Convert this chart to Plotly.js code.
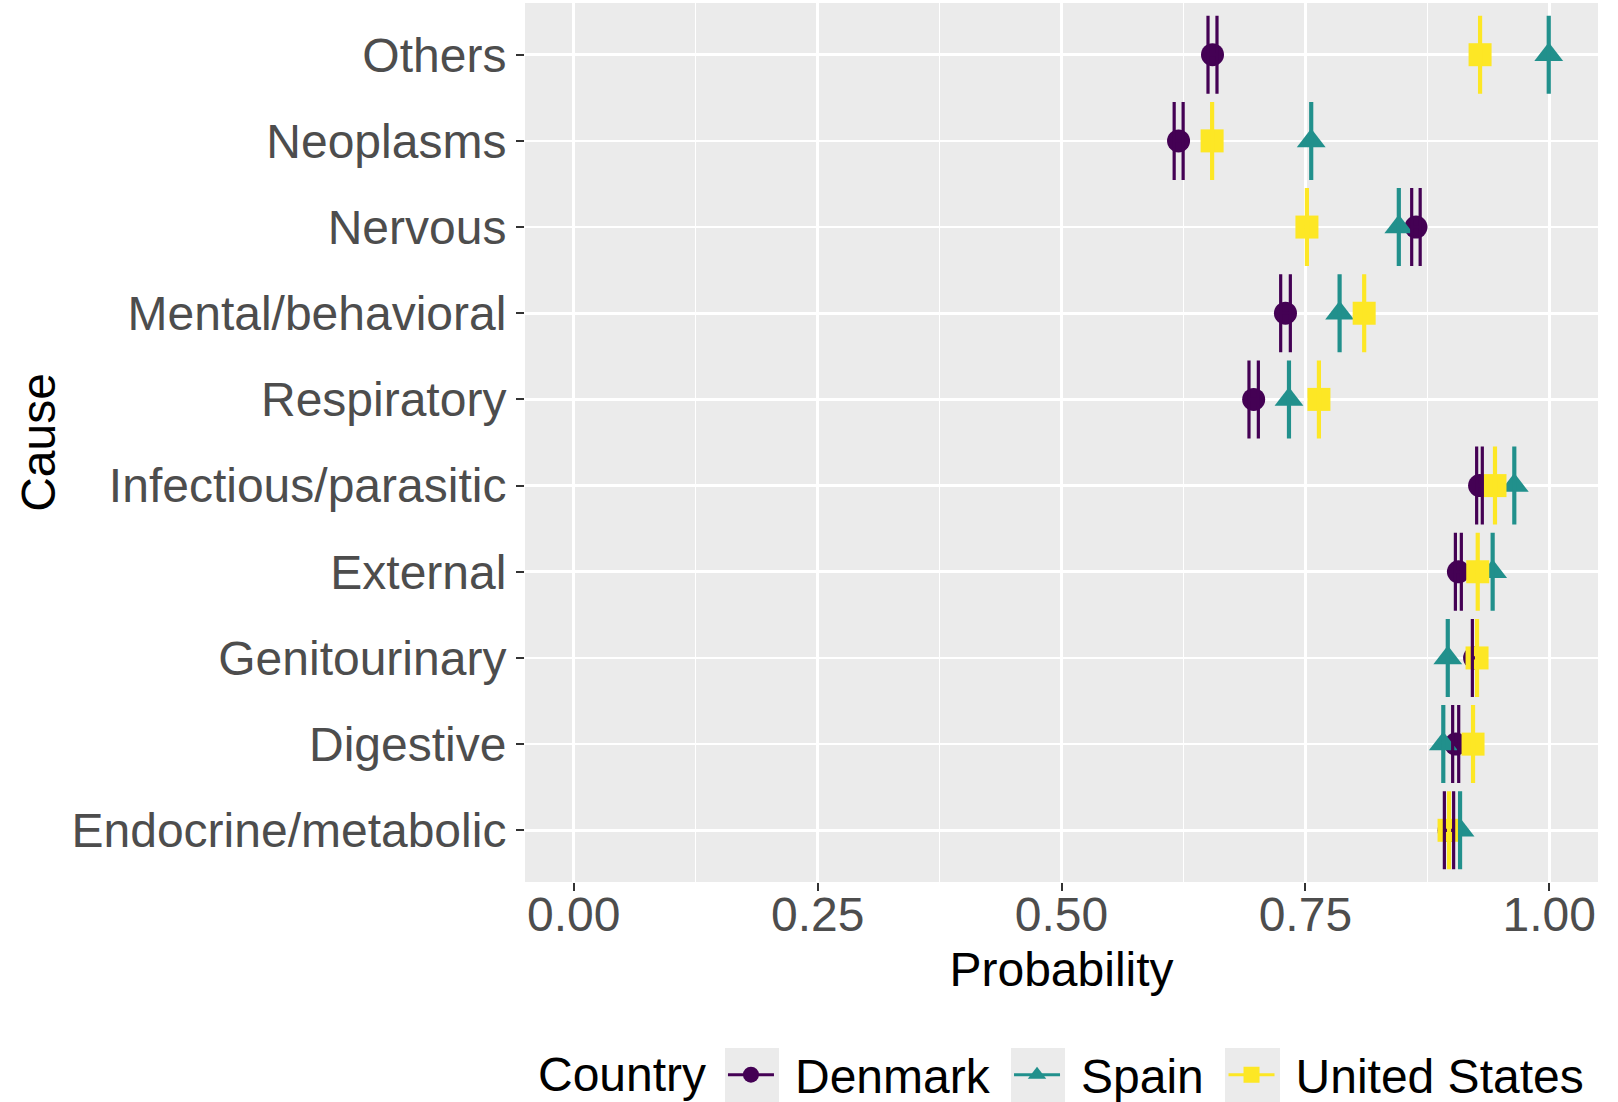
<!DOCTYPE html>
<html>
<head>
<meta charset="utf-8">
<script src="https://cdn.plot.ly/plotly-3.0.1.min.js"></script>
<style>html,body{margin:0;padding:0;background:#fff;}#chart{width:1618px;height:1102px;}</style>
</head>
<body>
<div id="chart"></div>
<script>
// Categories (bottom to top)
const causes = ["Endocrine/metabolic","Digestive","Genitourinary","External","Infectious/parasitic","Respiratory","Mental/behavioral","Nervous","Neoplasms","Others"];
const countries = ["Denmark","Spain","United States"];
const legendTitle = "Country";

// Denmark: estimate, lower, upper
const denmark    = [0.8973, 0.9041, 0.9235, 0.9069, 0.9286, 0.6970, 0.7296, 0.8634, 0.6200, 0.6548];
const denmarkLo  = [0.8925, 0.9010, 0.9212, 0.9038, 0.9256, 0.6922, 0.7247, 0.8590, 0.6155, 0.6502];
const denmarkHi  = [0.9020, 0.9072, 0.9258, 0.9099, 0.9314, 0.7018, 0.7346, 0.8677, 0.6247, 0.6594];
// Spain
const spain      = [0.9086, 0.8914, 0.8960, 0.9420, 0.9642, 0.7332, 0.7851, 0.8458, 0.7560, 0.9995];
const spainLo    = [0.9081, 0.8909, 0.8955, 0.9415, 0.9637, 0.7327, 0.7846, 0.8453, 0.7555, 0.9990];
const spainHi    = [0.9091, 0.8919, 0.8965, 0.9425, 0.9647, 0.7337, 0.7856, 0.8463, 0.7565, 1.0000];
// United States
const usa        = [0.8973, 0.9219, 0.9260, 0.9267, 0.9444, 0.7639, 0.8103, 0.7516, 0.6544, 0.9291];
const usaLo      = [0.8968, 0.9214, 0.9255, 0.9262, 0.9439, 0.7634, 0.8098, 0.7511, 0.6539, 0.9286];
const usaHi      = [0.8978, 0.9224, 0.9265, 0.9272, 0.9449, 0.7644, 0.8108, 0.7521, 0.6549, 0.9296];

const xTicks = [0, 0.25, 0.5, 0.75, 1.0];
const xTickLabels = ["0.00","0.25","0.50","0.75","1.00"];
const refLine = 0.5;

const colors = ["#440154", "#21908C", "#FDE725"];
const symbols = ["circle", "triangle-up", "square"];
const sizes = [23, 25, 23];
const legendIds = ["legend", "legend2", "legend3"];
const est = [denmark, spain, usa];
const lo = [denmarkLo, spainLo, usaLo];
const hi = [denmarkHi, spainHi, usaHi];

const traces = [];
// points layer
for (let i = 0; i < 3; i++) {
  traces.push({
    type: "scatter", mode: "markers", x: est[i], y: causes, name: countries[i],
    showlegend: false, hoverinfo: "x+y",
    marker: {color: colors[i], symbol: symbols[i], size: sizes[i], line: {width: 0}}
  });
}
// errorbar layer (drawn on top of all points)
for (let i = 0; i < 3; i++) {
  traces.push({
    type: "scatter", mode: "markers", x: est[i], y: causes, name: countries[i],
    showlegend: false, hoverinfo: "skip",
    marker: {color: colors[i], size: 2, opacity: 0},
    error_x: {
      type: "data", symmetric: false,
      array: hi[i].map((h, k) => h - est[i][k]),
      arrayminus: lo[i].map((l, k) => est[i][k] - l),
      color: colors[i], thickness: 3.2, width: 39
    }
  });
}
// legend entries (leading space keeps the text clear of the grey key box)
for (let i = 0; i < 3; i++) {
  traces.push({
    type: "scatter", mode: "lines+markers", x: [null], y: [null],
    name: "\u2004" + countries[i],
    showlegend: true, legend: legendIds[i],
    line: {color: colors[i], width: 3},
    marker: {color: colors[i], symbol: symbols[i], size: sizes[i]}
  });
}

const font = "Liberation Sans, Arial, Helvetica, sans-serif";
const legendFont = {size: 48, color: "#000000", family: font};
const legendY = -0.2195;
const legendBase = {
  orientation: "h", xanchor: "left", yanchor: "middle", y: legendY,
  font: legendFont, bgcolor: "rgba(0,0,0,0)", itemwidth: 46, borderwidth: 0
};
// grey legend key backgrounds (paper coordinates)
const keyBoxes = [[0.1864, 0.2367], [0.4529, 0.5033], [0.6524, 0.7036]];

const layout = {
  width: 1618, height: 1102,
  margin: {l: 525, r: 20, t: 3, b: 220, autoexpand: false},
  paper_bgcolor: "#FFFFFF", plot_bgcolor: "#EBEBEB",
  font: {family: font, size: 48, color: "#000000"},
  showlegend: true,
  xaxis: {
    range: [-0.05, 1.05], tickvals: xTicks, ticktext: xTickLabels,
    showgrid: true, gridcolor: "#FFFFFF", gridwidth: 2.6, zeroline: false,
    minor: {tickvals: [-0.125, 0.125, 0.375, 0.625, 0.875, 1.125], showgrid: true, gridcolor: "#FFFFFF", gridwidth: 1.3, ticks: ""},
    ticks: "outside", ticklen: 8, tickwidth: 2, tickcolor: "#333333",
    tickfont: {size: 48, color: "#4D4D4D", family: font},
    ticklabelstandoff: -18,
    showline: false, automargin: false,
    title: {text: "Probability", font: {size: 48, color: "#000000", family: font}, standoff: 12}
  },
  yaxis: {
    type: "category", categoryorder: "array", categoryarray: causes,
    range: [-0.6, 9.6],
    showgrid: true, gridcolor: "#FFFFFF", gridwidth: 2.6, zeroline: false,
    ticks: "outside", ticklen: 8, tickwidth: 2, tickcolor: "#333333",
    tickfont: {size: 48, color: "#4D4D4D", family: font},
    showline: false, automargin: false,
    title: {text: "Cause", font: {size: 48, color: "#000000", family: font}, standoff: 0}
  },
  shapes: [{
    type: "line", xref: "x", yref: "paper", x0: refLine, x1: refLine, y0: 0, y1: 1,
    line: {color: "#000000", width: 2.2}, layer: "below"
  }].concat(keyBoxes.map(b => ({
    type: "rect", xref: "paper", yref: "paper", x0: b[0], x1: b[1], y0: -0.2526, y1: -0.1889,
    fillcolor: "#EBEBEB", line: {width: 0}, layer: "below"
  }))),
  annotations: [{
    text: legendTitle, xref: "paper", yref: "paper", x: 0.010, y: legendY,
    xanchor: "left", yanchor: "middle", showarrow: false, font: legendFont
  }],
  legend: Object.assign({}, legendBase, {x: 0.1845}),
  legend2: Object.assign({}, legendBase, {x: 0.4511}),
  legend3: Object.assign({}, legendBase, {x: 0.6510})
};

Plotly.newPlot("chart", traces, layout, {displayModeBar: false, staticPlot: true});
</script>
</body>
</html>
